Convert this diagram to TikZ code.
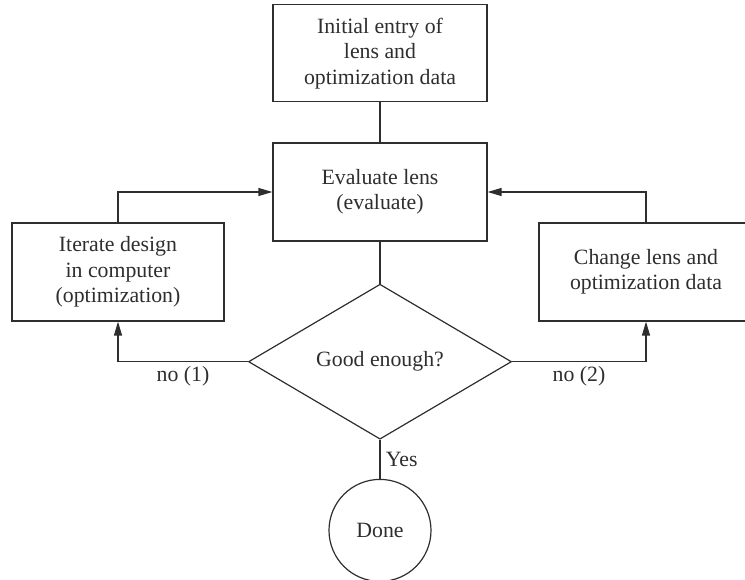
\documentclass[tikz,border=0pt]{standalone}
\usepackage{fontspec}
\setmainfont{Liberation Serif}
\usepackage{tikz}
\usetikzlibrary{positioning,arrows.meta,shapes.geometric}

\colorlet{ink}{black!82}

\begin{document}
\begin{tikzpicture}[
    x=1pt, y=1pt,
    every node/.style={text=ink, font=\fontsize{21.8}{25.5}\selectfont},
    box/.style={draw=ink, line width=1.2pt, minimum width=214pt, minimum height=98pt, align=center, inner sep=2pt},
    decision/.style={draw=ink, line width=1.2pt, diamond, minimum width=263pt, minimum height=155pt, inner sep=0pt},
    stop/.style={draw=ink, line width=1.2pt, circle, minimum size=102pt, inner sep=0pt},
    line/.style={draw=ink, line width=1.2pt},
    arrow/.style={line, -{Triangle[length=14pt, width=8pt]}},
]
\useasboundingbox (0,0) rectangle (745,579);
\clip (0,0) rectangle (745,579);

\node[box] (eval) at (380,387) {Evaluate lens\\(evaluate)};
\node[box, minimum height=97pt, above=40pt of eval] (init) {Initial entry of\\lens and\\optimization data};
\node[decision, below=42pt of eval] (good) {Good enough?};
\node[stop, below=39pt of good] (done) {Done};
\node[box, minimum width=212pt] (iter) at (118,307) {Iterate design\\in computer\\(optimization)};
\node[box] (change) at (646,307) {Change lens and\\optimization data};

\draw[line] (init) -- (eval);
\draw[line] (eval) -- (good);
\draw[line] (good) -- node[right, xshift=2pt] {Yes} (done);
\draw[arrow] (iter.north) |- (eval.west);
\draw[arrow] (change.north) |- (eval.east);
\draw[arrow] (good.west) -| node[pos=0.25, below, yshift=-1pt] {no (1)} (iter.south);
\draw[arrow] (good.east) -| node[pos=0.25, below, yshift=-1pt] {no (2)} (change.south);
\end{tikzpicture}
\end{document}
